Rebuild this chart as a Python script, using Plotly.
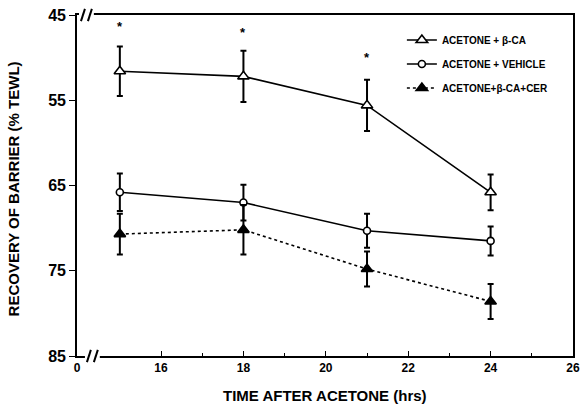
import plotly.graph_objects as go

# Data
hours = [15, 18, 21, 24]
names = ["ACETONE + β-CA", "ACETONE + VEHICLE", "ACETONE+β-CA+CER"]
beta_ca = [51.6, 52.2, 55.6, 65.8]
beta_ca_err = [2.9, 3.0, 3.0, 2.1]
vehicle = [65.8, 67.0, 70.3, 71.5]
vehicle_err = [2.2, 2.1, 2.0, 1.7]
cer = [70.7, 70.2, 74.8, 78.6]
cer_err = [2.4, 2.9, 2.05, 2.05]
star_hours = [15, 18, 21]
star_vals = [46.4, 47.0, 49.95]

x_break_origin = 13.96  # axis origin (labelled 0) after the break
x_tickvals = [x_break_origin, 16, 18, 20, 22, 24, 26]
x_ticktext = ["0", "16", "18", "20", "22", "24", "26"]
y_tickvals = [45, 55, 65, 75, 85]

FONT = "Arial, Liberation Sans, sans-serif"

fig = go.Figure()
series = [
    (names[0], beta_ca, beta_ca_err, "white", 10, "solid", "triangle-up"),
    (names[1], vehicle, vehicle_err, "white", 7, "solid", "circle"),
    (names[2], cer, cer_err, "black", 10, "dot", "triangle-up"),
]
for i, (nm, vals, errs, fill, sz, dash, sym) in enumerate(series):
    fig.add_trace(go.Scatter(
        x=hours, y=vals, name=nm, mode="lines+markers",
        line=dict(color="black", width=1.6, dash=dash),
        marker=dict(symbol=sym, size=sz, color=fill, line=dict(color="black", width=1.6)),
        error_y=dict(type="data", array=errs, visible=True, color="black", thickness=2, width=3),
        legendgroup=f"g{i}",
    ))

for xh, yv in zip(star_hours, star_vals):
    fig.add_annotation(x=xh, y=yv, text="<b>*</b>", showarrow=False,
                       font=dict(family=FONT, size=13, color="black"))

# axis titles
fig.add_annotation(xref="paper", yref="paper", x=-0.128, y=0.49, textangle=-90,
                   xanchor="center", yanchor="middle",
                   text="<b>RECOVERY OF BARRIER (% TEWL)</b>", showarrow=False,
                   font=dict(family=FONT, size=15, color="black"))
fig.add_annotation(xref="paper", yref="paper", x=0.5, y=-0.115, xanchor="center", yanchor="middle",
                   text="<b>TIME AFTER ACETONE (hrs)</b>", showarrow=False,
                   font=dict(family=FONT, size=15, color="black"))

# axis break marks (decoration)
shapes = []
for yp, xc in [(1.0, 0.019), (0.0, 0.031)]:
    shapes.append(dict(type="rect", xref="paper", yref="paper", x0=xc - 0.015, x1=xc + 0.015,
                       y0=yp - 0.008, y1=yp + 0.008, fillcolor="white", line=dict(width=0), layer="above"))
    for dx in (-0.007, 0.007):
        shapes.append(dict(type="line", xref="paper", yref="paper",
                           x0=xc + dx - 0.004, x1=xc + dx + 0.004, y0=yp - 0.018, y1=yp + 0.018,
                           line=dict(color="black", width=2), layer="above"))

fig.update_layout(
    width=582, height=412,
    margin=dict(l=77, r=9, t=14.5, b=56.3),
    paper_bgcolor="white", plot_bgcolor="white",
    font=dict(family=FONT, color="black"),
    shapes=shapes,
    showlegend=True,
    legend=dict(x=0.655, y=0.969, xanchor="left", yanchor="top",
                font=dict(family=FONT, size=10, color="black", weight="bold"),
                bgcolor="rgba(0,0,0,0)", itemwidth=30, tracegroupgap=5,
                traceorder="grouped"),
    xaxis=dict(range=[x_break_origin, 26], tickmode="array", tickvals=x_tickvals, ticktext=x_ticktext,
               ticks="inside", ticklen=5, tickwidth=1.2, tickcolor="black",
               minor=dict(tickvals=[17, 19, 21, 23, 25], ticks="inside", ticklen=3, tickcolor="black"),
               showline=True, linecolor="black", linewidth=1.6, mirror=True,
               showgrid=False, zeroline=False, automargin=False, ticklabeloverflow="allow",
               tickfont=dict(family=FONT, size=12, weight="bold")),
    yaxis=dict(range=[85, 45], tickmode="array", tickvals=y_tickvals,
               ticks="outside", ticklen=6, tickwidth=1.2, tickcolor="black",
               showline=True, linecolor="black", linewidth=1.6, mirror=True,
               showgrid=False, zeroline=False, automargin=False, ticklabeloverflow="allow",
               tickfont=dict(family=FONT, size=16, weight="bold")),
)

fig.write_html("out.html", config={"displayModeBar": False},
               post_script="document.body.style.margin='0';document.body.style.overflow='hidden';")
